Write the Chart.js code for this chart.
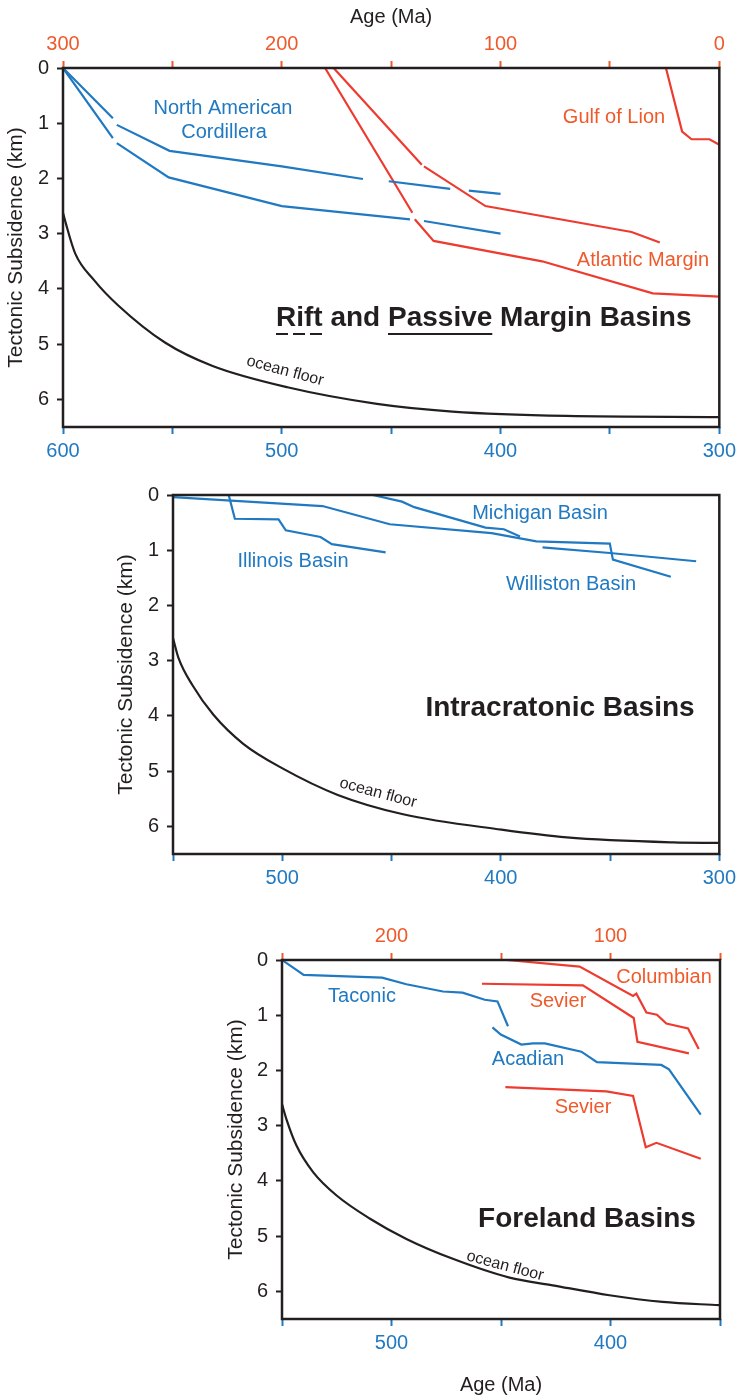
<!DOCTYPE html>
<html>
<head>
<meta charset="utf-8">
<title>Tectonic subsidence curves</title>
<script src="https://cdn.jsdelivr.net/npm/chart.js@4.4.1/dist/chart.umd.min.js"></script>
<style>
  html, body { margin: 0; padding: 0; background: #fff; }
  body { width: 741px; height: 1399px; position: relative; overflow: hidden; }
  canvas { position: absolute; left: 0; display: block; }
</style>
</head>
<body>
<canvas id="rift" width="741" height="470" style="top:0"></canvas>
<canvas id="intra" width="741" height="430" style="top:470px"></canvas>
<canvas id="foreland" width="741" height="499" style="top:900px"></canvas>
<script>
const family = '"Liberation Sans", Arial, Helvetica, sans-serif';
const ink = '#231f20';
const blue = '#2079c1';
const red = '#ee3b30';
const redText = '#f05a2b';

// shared depth ticks (km)
const depthTicks = [0, 1, 2, 3, 4, 5, 6];

// ---- Rift and passive margin basins
const riftBottomTicks = [600, 550, 500, 450, 400, 350, 300];
const riftBottomLabels = [600, 500, 400, 300];
const riftTopTicks = [300, 250, 200, 150, 100, 50, 0];
const riftTopLabels = [300, 200, 100, 0];

const riftOceanAge = [600, 598.8, 594.4, 585.8, 575.0, 553.4, 531.9, 497.4, 456.5, 422.0, 370.0, 300];
const riftOceanDepth = [2.62, 2.80, 3.36, 3.84, 4.29, 4.97, 5.39, 5.78, 6.08, 6.22, 6.30, 6.32];

// null depth = break in the curve
const cordilleraUpperAge = [600, 577.2, 576.3, 575.4, 551.3, 500, 462.9, 457, 451.1, 423.0, 418.7, 414.5, 400];
const cordilleraUpperDepth = [0, 0.91, null, 1.03, 1.50, 1.78, 2.01, null, 2.05, 2.19, null, 2.22, 2.28];
const cordilleraLowerAge = [600, 577.2, 576.3, 575.4, 551.7, 500, 441.4, 438.2, 435.0, 427.4, 400];
const cordilleraLowerDepth = [0, 1.27, null, 1.36, 1.98, 2.50, 2.74, null, 2.77, 2.82, 3.00];

const atlanticLowerAge = [180.2, 140.3, 139.7, 139.2, 130.6, 81.0, 30.4, 0];
const atlanticLowerDepth = [0, 2.62, null, 2.74, 3.13, 3.50, 4.08, 4.14];
const atlanticUpperAge = [176.3, 136.0, 135.5, 135.0, 106.9, 40.1, 27.2];
const atlanticUpperDepth = [0, 1.75, null, 1.78, 2.50, 2.97, 3.16];
const gulfLionAge = [24.4, 17.0, 12.7, 4.5, 0];
const gulfLionDepth = [0, 1.15, 1.29, 1.29, 1.39];

// ---- Intracratonic basins
const intraBottomTicks = [550, 500, 450, 400, 350, 300];
const intraBottomLabels = [500, 400, 300];

const intraOceanAge = [550, 547.5, 541.0, 531.5, 518.0, 499.9, 474.6, 444.7, 399.7, 369.8, 321, 300];
const intraOceanDepth = [2.59, 2.95, 3.45, 3.98, 4.50, 4.95, 5.43, 5.78, 6.06, 6.20, 6.29, 6.30];

const willistonAge = [550, 481.6, 450.8, 404.2, 383.7, 350.1, 348.7, 322.2];
const willistonDepth = [0.04, 0.20, 0.53, 0.69, 0.84, 0.88, 1.17, 1.48];
const michiganAge = [458.6, 445.2, 439.6, 407.0, 398.6, 391.2, 386.0, 380.9, 350.1, 310.6];
const michiganDepth = [0, 0.12, 0.22, 0.59, 0.62, 0.75, null, 0.95, 1.05, 1.20];
const illinoisAge = [524.5, 521.7, 501.7, 498.4, 482.5, 477.3, 452.7];
const illinoisDepth = [0, 0.43, 0.44, 0.64, 0.76, 0.89, 1.04];

// ---- Foreland basins
const foreBottomTicks = [550, 500, 450, 400, 350];
const foreBottomLabels = [500, 400];
const foreTopTicks = [250, 200, 150, 100, 50];
const foreTopLabels = [200, 100];

const foreOceanAge = [550, 548, 543.4, 535.8, 525.2, 510, 493.2, 472, 446.1, 426.4, 400.5, 376.2, 350.3];
const foreOceanDepth = [2.61, 2.88, 3.36, 3.84, 4.26, 4.68, 5.05, 5.41, 5.75, 5.89, 6.07, 6.19, 6.25];

const taconicAge = [550, 540.1, 504.3, 493.2, 476.5, 467.6, 457.4, 451.6, 446.8];
const taconicDepth = [0, 0.27, 0.32, 0.44, 0.57, 0.59, 0.72, 0.75, 1.20];
const acadianAge = [453.9, 450.1, 440.7, 435.4, 430.0, 413.3, 406.2, 376.8, 373.3, 358.8];
const acadianDepth = [1.22, 1.35, 1.53, 1.51, 1.51, 1.66, 1.85, 1.90, 1.98, 2.80];
const columbianAge = [147.3, 114.1, 89.7, 88.2, 83.6, 78.8, 74.5, 64.6, 59.7];
const columbianDepth = [0, 0.12, 0.65, 0.61, 0.95, 0.99, 1.15, 1.24, 1.61];
const sevierUpperAge = [158.7, 112.6, 89.4, 87.7, 64.2];
const sevierUpperDepth = [0.43, 0.46, 1.05, 1.48, 1.69];
const sevierLowerAge = [148.0, 101.9, 89.7, 83.9, 79.0, 58.8];
const sevierLowerDepth = [2.30, 2.38, 2.46, 3.39, 3.31, 3.60];

function series(ages, depths, color, axisId, smooth) {
  return {
    data: ages.map((a, i) => ({ x: a, y: depths[i] })),
    xAxisID: axisId || 'x',
    borderColor: color,
    borderWidth: 2.2,
    showLine: true,
    pointRadius: 0,
    fill: false,
    spanGaps: false,
    tension: 0,
    cubicInterpolationMode: smooth ? 'monotone' : 'default',
  };
}

function ageAxis(position, min, max, tickList, labelList, color, height, title) {
  return {
    type: 'linear',
    position,
    min,
    max,
    reverse: true,
    afterBuildTicks: s => { s.ticks = tickList.map(v => ({ value: v })); },
    afterFit: s => { s.height = height; },
    ticks: {
      color,
      autoSkip: false,
      maxRotation: 0,
      padding: 5,
      font: { family, size: 20 },
      callback: v => labelList.includes(v) ? String(v) : '',
    },
    grid: { display: true, drawOnChartArea: false, drawTicks: true, tickLength: 7, tickColor: color, tickWidth: 2, color },
    border: { display: false },
    title: title ? {
      display: true, text: 'Age (Ma)', color: ink,
      font: { family, size: 20 },
      padding: position === 'top' ? { top: 5, bottom: 0 } : { top: 0, bottom: 2 },
    } : { display: false },
  };
}

function depthAxis(width) {
  return {
    type: 'linear',
    position: 'left',
    min: 0,
    max: 6.5,
    reverse: true,
    afterBuildTicks: s => { s.ticks = depthTicks.map(v => ({ value: v })); },
    afterFit: s => { s.width = width; },
    ticks: { color: ink, padding: 8, font: { family, size: 20 } },
    grid: { display: true, drawOnChartArea: false, drawTicks: true, tickLength: 6, tickColor: ink, tickWidth: 2 },
    border: { display: false },
    title: {
      display: true, text: 'Tectonic Subsidence (km)', color: ink,
      font: { family, size: 21 }, padding: { top: 4, bottom: 0 },
    },
  };
}

// frame + free text (page coordinates, shifted by canvas top)
function notes(top, items, extra) {
  return {
    id: 'notes',
    afterDraw(chart) {
      const ctx = chart.ctx;
      const a = chart.chartArea;
      ctx.save();
      ctx.strokeStyle = ink;
      ctx.lineWidth = 2.5;
      ctx.strokeRect(a.left, a.top, a.right - a.left, a.bottom - a.top);
      items.forEach(n => {
        ctx.save();
        ctx.translate(n.x, n.y - top);
        if (n.rotate) ctx.rotate(n.rotate * Math.PI / 180);
        ctx.font = n.font;
        ctx.fillStyle = n.color;
        ctx.textAlign = 'center';
        ctx.textBaseline = 'middle';
        ctx.fillText(n.text, 0, 0);
        ctx.restore();
      });
      if (extra) extra(ctx, top);
      ctx.restore();
    },
  };
}

const labelFont = `20px ${family}`;
const boldFont = `bold 28px ${family}`;
const smallFont = `16px ${family}`;

function riftTitle(ctx, top) {
  const x0 = 276;
  ctx.font = boldFont;
  ctx.fillStyle = ink;
  ctx.textAlign = 'left';
  ctx.textBaseline = 'middle';
  ctx.fillText('Rift and Passive Margin Basins', x0, 318 - top);
  const wRift = ctx.measureText('Rift').width;
  const wLead = ctx.measureText('Rift and ').width;
  const wPassive = ctx.measureText('Passive').width;
  const uy = 334 - top;
  ctx.strokeStyle = ink;
  ctx.lineWidth = 2;
  ctx.setLineDash([12, 5]);
  ctx.beginPath(); ctx.moveTo(x0, uy); ctx.lineTo(x0 + wRift, uy); ctx.stroke();
  ctx.setLineDash([]);
  ctx.beginPath(); ctx.moveTo(x0 + wLead, uy); ctx.lineTo(x0 + wLead + wPassive, uy); ctx.stroke();
}

const common = {
  responsive: false,
  animation: false,
  events: [],
  plugins: { legend: { display: false }, tooltip: { enabled: false } },
};

new Chart(document.getElementById('rift'), {
  type: 'scatter',
  data: {
    datasets: [
      series(riftOceanAge, riftOceanDepth, ink, 'x', true),
      series(cordilleraUpperAge, cordilleraUpperDepth, blue),
      series(cordilleraLowerAge, cordilleraLowerDepth, blue),
      series(atlanticLowerAge, atlanticLowerDepth, red, 'x2'),
      series(atlanticUpperAge, atlanticUpperDepth, red, 'x2'),
      series(gulfLionAge, gulfLionDepth, red, 'x2'),
    ],
  },
  options: {
    ...common,
    layout: { padding: { left: 0, right: 20, top: 0, bottom: 0 } },
    scales: {
      x: ageAxis('bottom', 300, 600, riftBottomTicks, riftBottomLabels, blue, 43, false),
      x2: ageAxis('top', 0, 300, riftTopTicks, riftTopLabels, redText, 68, true),
      y: depthAxis(63),
    },
  },
  plugins: [notes(0, [
    { text: 'North American', x: 223, y: 108, color: blue, font: labelFont },
    { text: 'Cordillera', x: 224, y: 132, color: blue, font: labelFont },
    { text: 'Gulf of Lion', x: 614, y: 117, color: redText, font: labelFont },
    { text: 'Atlantic Margin', x: 643, y: 260, color: redText, font: labelFont },
    { text: 'ocean floor', x: 285, y: 371, color: ink, font: smallFont, rotate: 15 },
  ], riftTitle)],
});

new Chart(document.getElementById('intra'), {
  type: 'scatter',
  data: {
    datasets: [
      series(intraOceanAge, intraOceanDepth, ink, 'x', true),
      series(willistonAge, willistonDepth, blue),
      series(michiganAge, michiganDepth, blue),
      series(illinoisAge, illinoisDepth, blue),
    ],
  },
  options: {
    ...common,
    layout: { padding: { left: 110, right: 20, top: 25, bottom: 0 } },
    scales: {
      x: ageAxis('bottom', 300, 550, intraBottomTicks, intraBottomLabels, blue, 46, false),
      y: depthAxis(63),
    },
  },
  plugins: [notes(470, [
    { text: 'Michigan Basin', x: 540, y: 513, color: blue, font: labelFont },
    { text: 'Illinois Basin', x: 293, y: 561, color: blue, font: labelFont },
    { text: 'Williston Basin', x: 571, y: 584, color: blue, font: labelFont },
    { text: 'Intracratonic Basins', x: 560, y: 708, color: ink, font: boldFont },
    { text: 'ocean floor', x: 378, y: 793, color: ink, font: smallFont, rotate: 15 },
  ])],
});

new Chart(document.getElementById('foreland'), {
  type: 'scatter',
  data: {
    datasets: [
      series(foreOceanAge, foreOceanDepth, ink, 'x', true),
      series(taconicAge, taconicDepth, blue),
      series(acadianAge, acadianDepth, blue),
      series(columbianAge, columbianDepth, red, 'x2'),
      series(sevierUpperAge, sevierUpperDepth, red, 'x2'),
      series(sevierLowerAge, sevierLowerDepth, red, 'x2'),
    ],
  },
  options: {
    ...common,
    layout: { padding: { left: 220, right: 21, top: 0, bottom: 0 } },
    scales: {
      x: ageAxis('bottom', 350, 550, foreBottomTicks, foreBottomLabels, blue, 80, true),
      x2: ageAxis('top', 50, 250, foreTopTicks, foreTopLabels, redText, 60, false),
      y: depthAxis(62),
    },
  },
  plugins: [notes(900, [
    { text: 'Taconic', x: 362, y: 996, color: blue, font: labelFont },
    { text: 'Columbian', x: 664, y: 977, color: redText, font: labelFont },
    { text: 'Sevier', x: 558, y: 1001, color: redText, font: labelFont },
    { text: 'Acadian', x: 528, y: 1059, color: blue, font: labelFont },
    { text: 'Sevier', x: 583, y: 1107, color: redText, font: labelFont },
    { text: 'Foreland Basins', x: 587, y: 1219, color: ink, font: boldFont },
    { text: 'ocean floor', x: 505, y: 1266, color: ink, font: smallFont, rotate: 15 },
  ])],
});
</script>
</body>
</html>
